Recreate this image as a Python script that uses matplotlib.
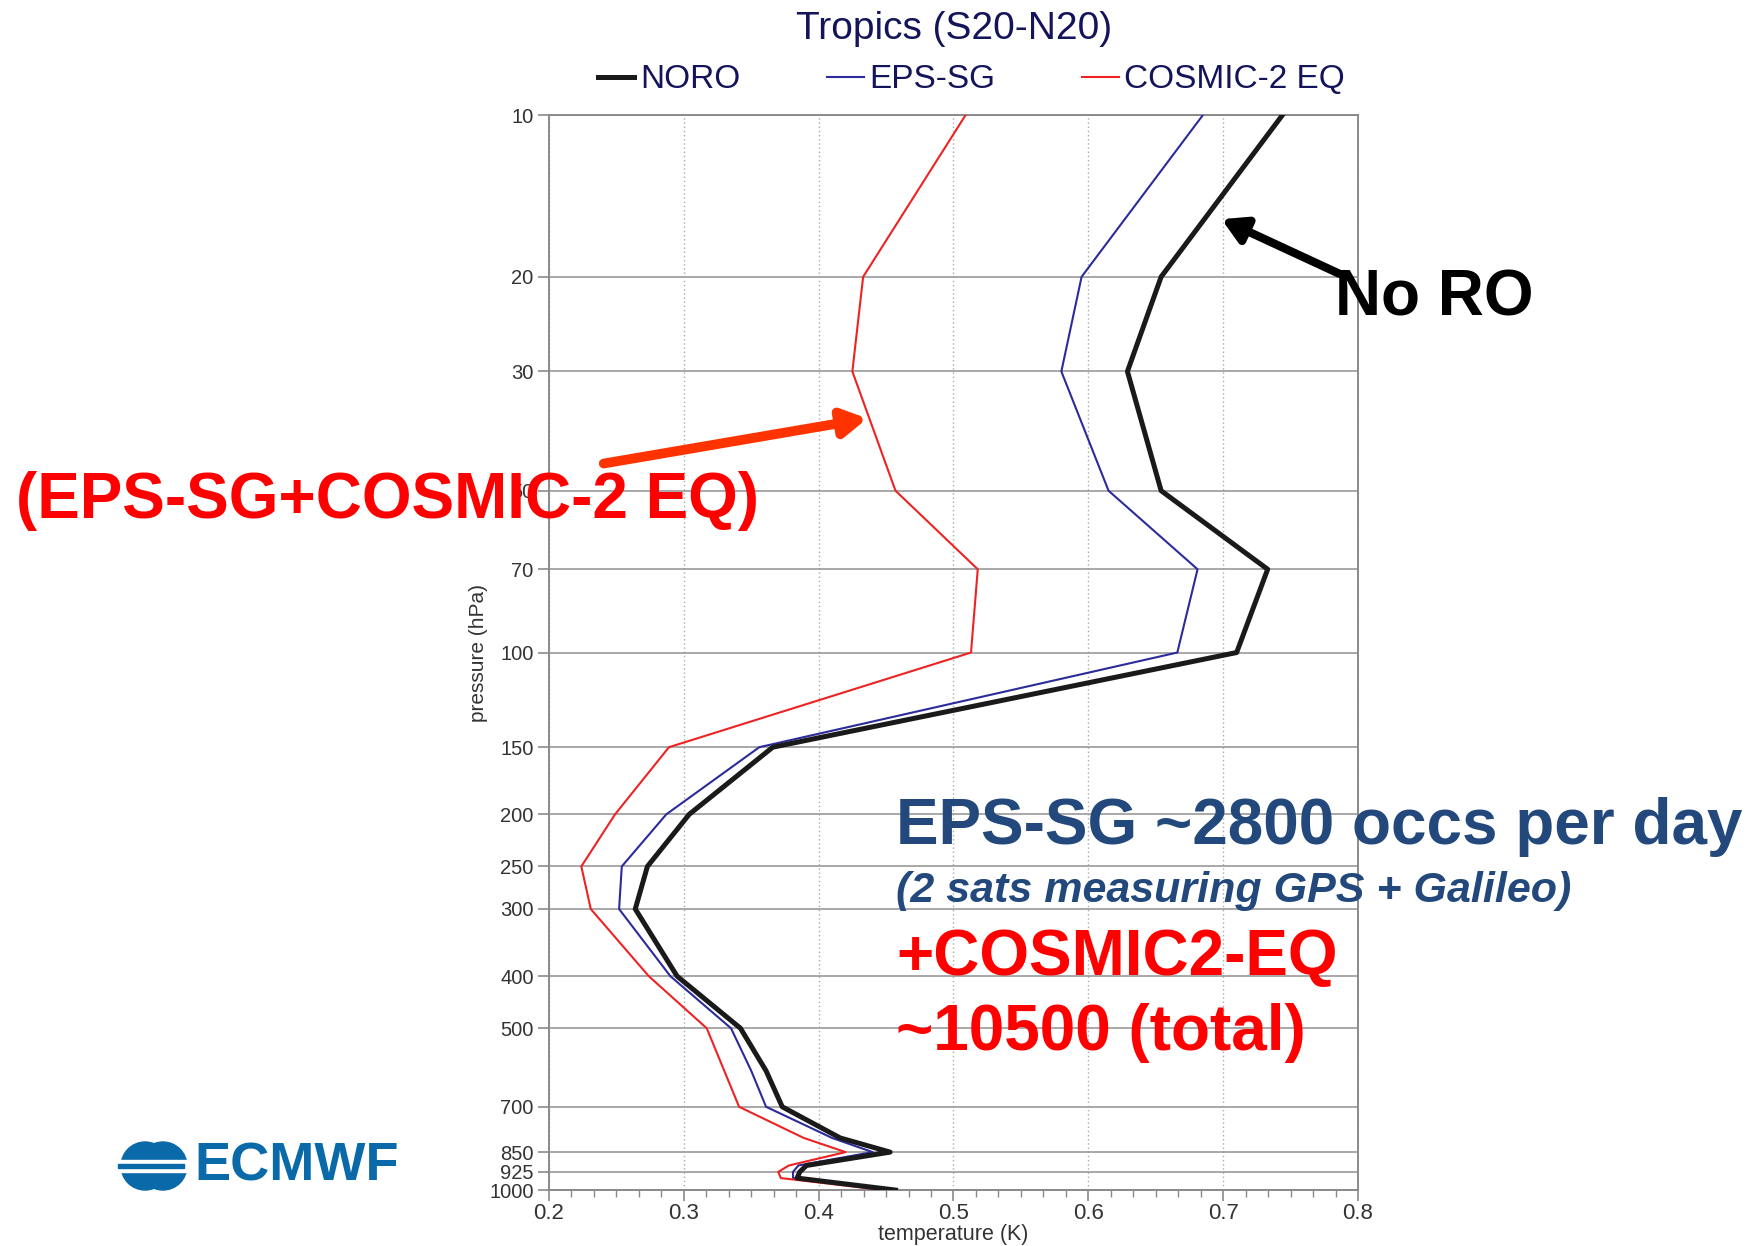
import numpy as np
import matplotlib
matplotlib.use('Agg')
import matplotlib.pyplot as plt
from matplotlib.ticker import FixedLocator, NullLocator, AutoMinorLocator, FormatStrFormatter
from matplotlib.patches import Ellipse, Rectangle

# data (temperature std dev, K) at pressure levels
levels = [10, 20, 30, 50, 70, 100, 150, 200, 250, 300, 400, 500, 600, 700, 800, 850, 900, 925, 950, 1000]
noro = [0.744, 0.654, 0.629, 0.654, 0.733, 0.710, 0.366, 0.304, 0.273, 0.264, 0.295, 0.342, 0.361, 0.373,
        0.416, 0.453, 0.391, 0.386, 0.384, 0.457]
epssg = [0.685, 0.595, 0.580, 0.615, 0.681, 0.666, 0.356, 0.287, 0.254, 0.252, 0.290, 0.335, 0.350, 0.361,
         0.410, 0.440, 0.385, 0.381, 0.381, 0.451]
cosmic = [0.509, 0.433, 0.425, 0.457, 0.518, 0.513, 0.289, 0.249, 0.224, 0.231, 0.274, 0.317, 0.330, 0.341,
          0.389, 0.420, 0.378, 0.370, 0.372, 0.448]
ytick_vals = [10, 20, 30, 50, 70, 100, 150, 200, 250, 300, 400, 500, 700, 850, 925, 1000]
xtick_vals = [0.2, 0.3, 0.4, 0.5, 0.6, 0.7, 0.8]

plt.rcParams['font.family'] = ['Liberation Sans', 'DejaVu Sans']
navy = '#14145a'
grey = '#333333'

fig = plt.figure(figsize=(17.5, 12.46), dpi=100)
ax = fig.add_axes([0.3137, 0.0449, 0.4623, 0.8628])

ax.plot(noro, levels, color='#1a1a1a', lw=3.6, label='NORO', zorder=4)
ax.plot(epssg, levels, color='#2b2b9b', lw=1.5, label='EPS-SG', zorder=3)
ax.plot(cosmic, levels, color='#ee2222', lw=1.5, label='COSMIC-2 EQ', zorder=3)

ax.set_yscale('log')
ax.set_ylim(1000, 10)
ax.set_xlim(0.2, 0.8)
ax.yaxis.set_major_locator(FixedLocator(ytick_vals))
ax.yaxis.set_minor_locator(NullLocator())
ax.set_yticklabels([str(v) for v in ytick_vals])
ax.set_xticks(xtick_vals)
ax.xaxis.set_major_formatter(FormatStrFormatter('%.1f'))
ax.xaxis.set_minor_locator(AutoMinorLocator(6))

ax.grid(axis='y', which='major', color='#9a9a9a', lw=1.2, ls='-')
ax.grid(axis='x', which='major', color='#aaaaaa', lw=1.0, ls=(0, (1, 2)))
for s in ax.spines.values():
    s.set_color('#8a8a8a')
    s.set_linewidth(1.4)

ax.tick_params(axis='y', labelsize=14.5, colors='#8a8a8a', labelcolor=grey, length=8, width=1.2, pad=3)
ax.tick_params(axis='x', which='major', labelsize=16, colors='#8a8a8a', labelcolor=grey, length=8, width=1.2,
               pad=1.5)
ax.tick_params(axis='x', which='minor', colors='#8a8a8a', length=5, width=1.0)

ax.set_ylabel('pressure (hPa)', fontsize=15, color=grey)
ax.yaxis.set_label_coords(-0.0754, 0.5)
ax.set_xlabel('temperature (K)', fontsize=15.5, color=grey, labelpad=0)

fig.text(0.545, 0.977, 'Tropics (S20-N20)', ha='center', va='center', fontsize=28, color=navy)
leg = fig.legend(loc='center', bbox_to_anchor=(0.555, 0.936), ncol=3, frameon=False,
                 fontsize=24, handlelength=1.1, handletextpad=0.17, columnspacing=2.6)
for t in leg.get_texts():
    t.set_color(navy)

# annotations
fig.text(0.763, 0.7606, 'No RO', fontsize=46, fontweight='bold', color='black', va='center', ha='left')
ax.annotate('', xy=(1219 / 1750, 1 - 218 / 1246), xycoords='figure fraction',
            xytext=(1342 / 1750, 1 - 275 / 1246), textcoords='figure fraction',
            arrowprops=dict(arrowstyle='-|>,head_length=1.4,head_width=0.8', lw=6, color='black'))

fig.text(0.009, 0.598, '(EPS-SG+COSMIC-2 EQ)', fontsize=46, fontweight='bold', color='#ff0000',
         va='center', ha='left', zorder=5)
ax.annotate('', xy=(870 / 1750, 1 - 418 / 1246), xycoords='figure fraction',
            xytext=(601 / 1750, 1 - 464 / 1246), textcoords='figure fraction',
            arrowprops=dict(arrowstyle='-|>,head_length=1.4,head_width=0.8', lw=7, color='#ff3300'))

blue_txt = '#23497c'
fig.text(0.512, 0.336, 'EPS-SG ~2800 occs per day', fontsize=46, fontweight='bold', color=blue_txt,
         va='center', ha='left')
fig.text(0.512, 0.285, '(2 sats measuring GPS + Galileo)', fontsize=31, fontweight='bold', style='italic',
         color=blue_txt, va='center', ha='left')
fig.text(0.512, 0.231, '+COSMIC2-EQ', fontsize=46, fontweight='bold', color='#ff0000', va='center', ha='left')
fig.text(0.512, 0.171, '~10500 (total)', fontsize=46, fontweight='bold', color='#ff0000', va='center', ha='left')

# ECMWF logo
logo = '#0a69a8'
fig.text(0.111, 0.0642, 'ECMWF', fontsize=39, fontweight='bold', color=logo, va='center', ha='left')
for cx in (0.0829, 0.0931):
    fig.patches.append(Ellipse((cx, 0.0642), 48 / 1750, 48 / 1246, transform=fig.transFigure, color=logo))
fig.patches.append(Rectangle((0.0675, 0.0642 - 6 / 1246), 0.042, 12 / 1246, transform=fig.transFigure,
                             color='white'))
fig.patches.append(Rectangle((0.0675, 0.0642 - 2 / 1246), 0.0375, 4 / 1246, transform=fig.transFigure,
                             color=logo))

fig.savefig('out.png', dpi=100)
